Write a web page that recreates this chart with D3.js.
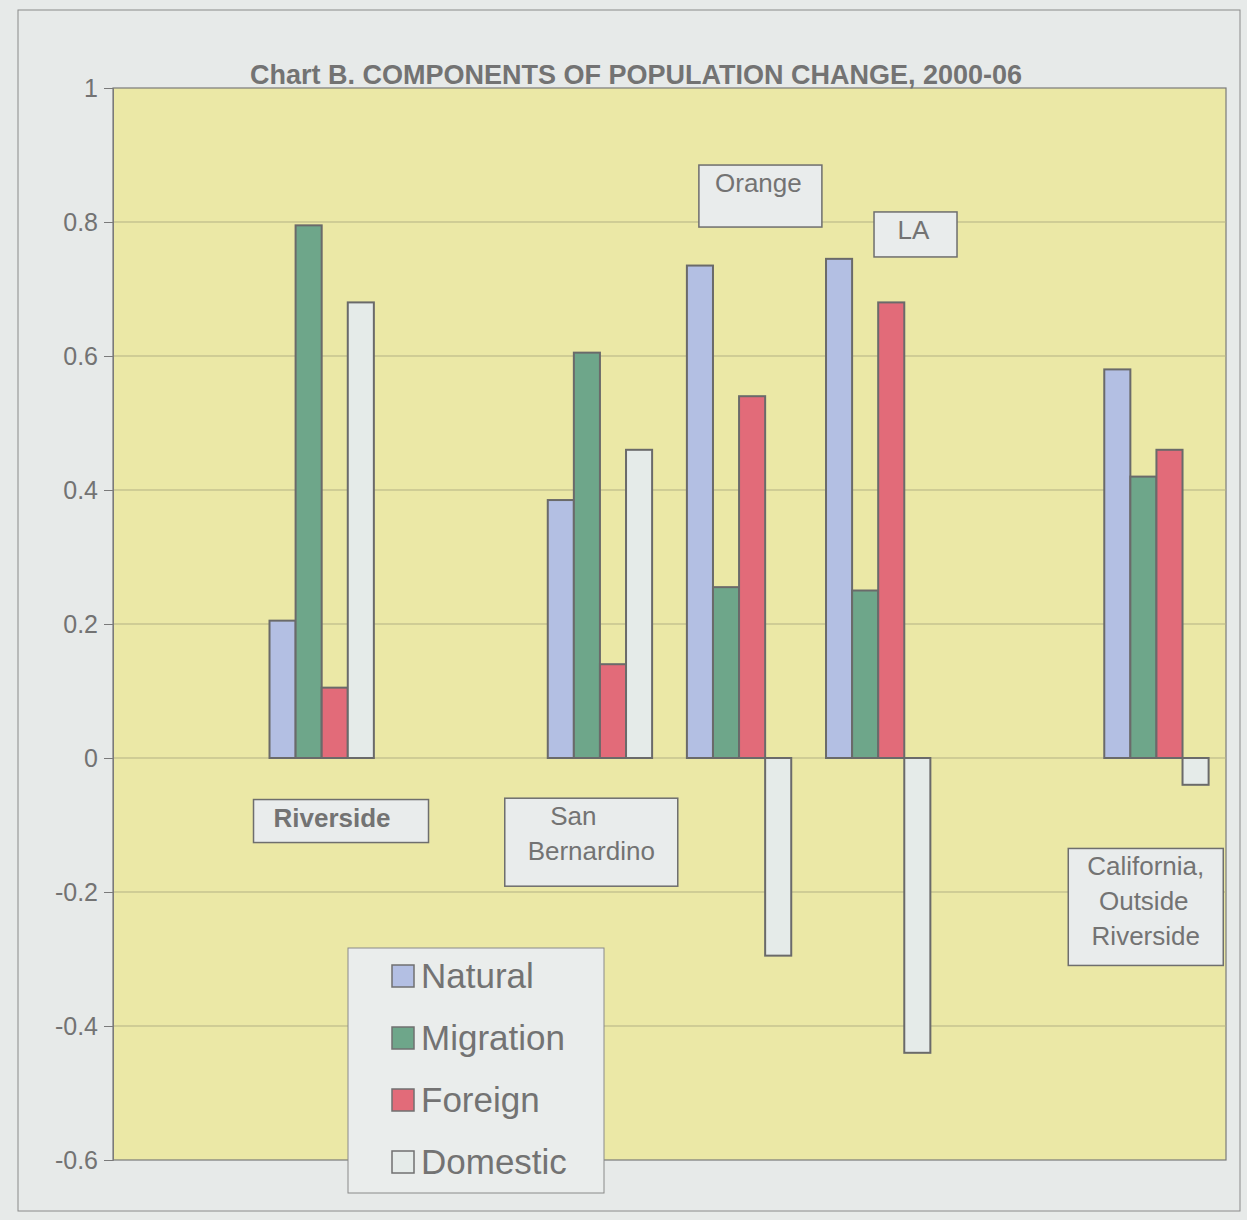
<!DOCTYPE html>
<html>
<head>
<meta charset="utf-8">
<script src="https://cdn.jsdelivr.net/npm/d3@7"></script>
<style>
  body { margin: 0; background: #e7eae9; }
  svg { display: block; font-family: "Liberation Sans", Arial, sans-serif; }
</style>
</head>
<body>
<svg width="1247" height="1220"></svg>
<script>
// categories (blank slots keep the spacing of the original sheet)
var categories = ["c0", "Riverside", "c2", "San Bernardino", "Orange", "LA", "c6", "California"];
var series = ["Natural", "Migration", "Foreign", "Domestic"];
var natural   = [null, 0.205, null, 0.385, 0.735, 0.745, null, 0.58];
var migration = [null, 0.795, null, 0.605, 0.255, 0.25,  null, 0.42];
var foreign   = [null, 0.105, null, 0.14,  0.54,  0.68,  null, 0.46];
var domestic  = [null, 0.68,  null, 0.46, -0.295, -0.44, null, -0.04];
var yTicks = [1, 0.8, 0.6, 0.4, 0.2, 0, -0.2, -0.4, -0.6];
var colors = ["#b3bfe3", "#6ea68a", "#e26b79", "#e5ebe9"];

var svg = d3.select('svg');

// outer frame
svg.append('rect')
    .attr('x', 18).attr('y', 10).attr('width', 1222).attr('height', 1201)
    .attr('fill', '#e7eae9').attr('stroke', '#8a8a8a').attr('stroke-width', 1);

var plotL = 113, plotR = 1226, plotT = 88, plotB = 1160;

var x0 = d3.scaleBand().domain(categories).range([plotL, plotR])
    .paddingInner(0.25).paddingOuter(0.125);
var x1 = d3.scaleBand().domain(series).range([0, x0.bandwidth()]);
var y = d3.scaleLinear().domain([-0.6, 1]).range([plotB, plotT]);

// plot area
svg.append('rect')
    .attr('x', plotL).attr('y', plotT).attr('width', plotR - plotL).attr('height', plotB - plotT)
    .attr('fill', '#ebe8a6').attr('stroke', '#7a7a7a').attr('stroke-width', 1.2);

// gridlines
svg.append('g').selectAll('line')
    .data(yTicks.filter(function(d){ return d != 1 && d != -0.6; }))
    .enter().append('line')
    .attr('x1', plotL).attr('x2', plotR)
    .attr('y1', function(d){ return y(d); })
    .attr('y2', function(d){ return y(d); })
    .attr('stroke', '#b3b184').attr('stroke-width', 1);

// y axis
var yAxis = svg.append('g')
    .attr('transform', 'translate(' + plotL + ',0)')
    .call(d3.axisLeft(y).tickValues(yTicks).tickSize(9).tickPadding(6)
        .tickFormat(function(d){ return String(+d.toFixed(1)); }));
yAxis.select('.domain').attr('stroke', '#7a7a7a');
yAxis.selectAll('.tick line').attr('stroke', '#7a7a7a');
yAxis.selectAll('.tick text')
    .attr('fill', '#737373')
    .style('font-size', '25px');

// bars
var rows = categories.map(function(c, i){
    return { cat: c, vals: [natural[i], migration[i], foreign[i], domestic[i]] };
}).filter(function(r){ return r.vals[0] !== null; });

var groups = svg.selectAll('.grp')
    .data(rows)
    .enter().append('g')
    .attr('class', 'grp')
    .attr('transform', function(d){ return 'translate(' + x0(d.cat) + ',0)'; });

groups.selectAll('rect')
    .data(function(d){
        return d.vals.map(function(v, j){ return { s: series[j], v: v, c: colors[j] }; });
    })
    .enter().append('rect')
    .attr('x', function(d){ return x1(d.s); })
    .attr('width', x1.bandwidth())
    .attr('y', function(d){ return y(Math.max(0, d.v)); })
    .attr('height', function(d){ return Math.abs(y(d.v) - y(0)); })
    .attr('fill', function(d){ return d.c; })
    .attr('stroke', '#6a6a6a')
    .attr('stroke-width', 2);

// category label boxes
function labelBox(x, yTop, w, h, lines, bold) {
    svg.append('rect')
        .attr('x', x).attr('y', yTop).attr('width', w).attr('height', h)
        .attr('fill', '#e9ecec').attr('stroke', '#6e6e6e').attr('stroke-width', 1.5);
    var t = svg.append('text')
        .attr('fill', '#737373')
        .style('font-size', '26px')
        .style('font-weight', bold ? 'bold' : 'normal')
        .attr('text-anchor', 'middle');
    lines.forEach(function(l, i){
        t.append('tspan')
            .attr('x', x + w / 2 + l[1])
            .attr('y', yTop + 27 + i * 35)
            .text(l[0]);
    });
}
labelBox(x0("Riverside") - 16, y(-0.062), 175, 43, [["Riverside", -9]], true);
labelBox(x0("San Bernardino") - 43, y(-0.06), 173, 88, [["San", -18], ["Bernardino", 0]], false);
labelBox(x0("Orange") + 12, y(0.885), 123, 62, [["Orange", -2]], false);
labelBox(x0("LA") + 48, y(0.815), 83, 45, [["LA", -2]], false);
labelBox(x0("California") - 36, y(-0.135), 155, 117, [["California,", 0], ["Outside", -2], ["Riverside", 0]], false);

// legend
var lg = svg.append('g').attr('transform', 'translate(348,948)');
lg.append('rect')
    .attr('width', 256).attr('height', 245)
    .attr('fill', '#eaedec').attr('stroke', '#8a8a8a').attr('stroke-width', 1);
var items = lg.selectAll('.item')
    .data(series)
    .enter().append('g')
    .attr('class', 'item')
    .attr('transform', function(d, i){ return 'translate(44,' + (28 + i * 62) + ')'; });
items.append('rect')
    .attr('x', 0).attr('y', -11).attr('width', 22).attr('height', 22)
    .attr('fill', function(d, i){ return colors[i]; })
    .attr('stroke', '#707070').attr('stroke-width', 1.5);
items.append('text')
    .attr('x', 29).attr('y', 12)
    .attr('fill', '#737373')
    .style('font-size', '35px')
    .text(function(d){ return d; });

// title
svg.append('text')
    .attr('x', 636).attr('y', 84)
    .attr('text-anchor', 'middle')
    .attr('fill', '#737373')
    .style('font-size', '27px')
    .style('font-weight', 'bold')
    .text('Chart B. COMPONENTS OF POPULATION CHANGE, 2000-06');
</script>
</body>
</html>
